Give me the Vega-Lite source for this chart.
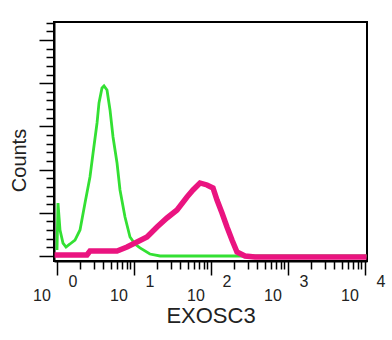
{
  "$schema": "https://vega.github.io/schema/vega-lite/v6.json",
  "width": 313,
  "height": 239,
  "autosize": {"type": "none"},
  "padding": {"left": 54, "top": 22, "right": 25, "bottom": 79},
  "background": "white",
  "config": {
    "view": {"stroke": "black", "strokeWidth": 2},
    "font": "Liberation Sans",
    "axis": {"domainColor": "black", "domainWidth": 2, "tickColor": "black", "tickWidth": 1.5, "grid": false}
  },
  "data": {
    "values": [
      {"series": "control", "x": 1.0, "y": 6.9},
      {"series": "control", "x": 1.03, "y": 61.3},
      {"series": "control", "x": 1.094, "y": 30.1},
      {"series": "control", "x": 1.196, "y": 15.0},
      {"series": "control", "x": 1.309, "y": 10.4},
      {"series": "control", "x": 1.475, "y": 13.9},
      {"series": "control", "x": 1.713, "y": 18.5},
      {"series": "control", "x": 1.99, "y": 30.1},
      {"series": "control", "x": 2.31, "y": 61.3},
      {"series": "control", "x": 2.68, "y": 91.4},
      {"series": "control", "x": 2.94, "y": 119.2},
      {"series": "control", "x": 3.31, "y": 153.9},
      {"series": "control", "x": 3.51, "y": 177.1},
      {"series": "control", "x": 3.84, "y": 194.4},
      {"series": "control", "x": 4.08, "y": 196.8},
      {"series": "control", "x": 4.46, "y": 192.1},
      {"series": "control", "x": 4.88, "y": 169.0},
      {"series": "control", "x": 5.34, "y": 137.7},
      {"series": "control", "x": 6.02, "y": 107.6},
      {"series": "control", "x": 6.58, "y": 76.4},
      {"series": "control", "x": 7.64, "y": 45.1},
      {"series": "control", "x": 8.87, "y": 22.0},
      {"series": "control", "x": 10.3, "y": 13.9},
      {"series": "control", "x": 11.97, "y": 9.3},
      {"series": "control", "x": 16.1, "y": 2.3},
      {"series": "control", "x": 21.8, "y": 0},
      {"series": "control", "x": 71.9, "y": 0},
      {"series": "control", "x": 238, "y": 0},
      {"series": "control", "x": 1432, "y": 0},
      {"series": "control", "x": 10500, "y": 0},
      {"series": "EXOSC3", "x": 0.93, "y": 1.2},
      {"series": "EXOSC3", "x": 1.475, "y": 1.2},
      {"series": "EXOSC3", "x": 2.45, "y": 1.2},
      {"series": "EXOSC3", "x": 2.68, "y": 5.8},
      {"series": "EXOSC3", "x": 6.02, "y": 5.8},
      {"series": "EXOSC3", "x": 8.11, "y": 10.4},
      {"series": "EXOSC3", "x": 10.94, "y": 16.2},
      {"series": "EXOSC3", "x": 14.75, "y": 22.0},
      {"series": "EXOSC3", "x": 19.9, "y": 33.6},
      {"series": "EXOSC3", "x": 26.8, "y": 44.0},
      {"series": "EXOSC3", "x": 36.2, "y": 53.2},
      {"series": "EXOSC3", "x": 48.8, "y": 68.3},
      {"series": "EXOSC3", "x": 58.4, "y": 76.4},
      {"series": "EXOSC3", "x": 71.9, "y": 84.5},
      {"series": "EXOSC3", "x": 88.7, "y": 82.2},
      {"series": "EXOSC3", "x": 106.2, "y": 78.7},
      {"series": "EXOSC3", "x": 119.7, "y": 64.8},
      {"series": "EXOSC3", "x": 139, "y": 49.8},
      {"series": "EXOSC3", "x": 161.4, "y": 33.6},
      {"series": "EXOSC3", "x": 187.5, "y": 18.5},
      {"series": "EXOSC3", "x": 217.6, "y": 4.6},
      {"series": "EXOSC3", "x": 276.5, "y": 0},
      {"series": "EXOSC3", "x": 372.8, "y": -1.2},
      {"series": "EXOSC3", "x": 10500, "y": -1.2}
    ]
  },
  "encoding": {
    "x": {
      "field": "x",
      "type": "quantitative",
      "scale": {"type": "log", "domain": [0.914, 10620], "nice": false},
      "axis": {
        "values": [1,2,3,4,5,6,7,8,9,10,20,30,40,50,60,70,80,90,100,200,300,400,500,600,700,800,900,1000,2000,3000,4000,5000,6000,7000,8000,9000,10000],
        "tickSize": {"condition": {"test": "indexof([1,10,100,1000,10000], datum.value) >= 0", "value": 14}, "value": 8},
        "labelExpr": "indexof([1,10,100,1000,10000], datum.value) >= 0 ? ['\u200b\u00a0\u00a0\u00a0\u00a0\u00a0\u00a0\u00a0' + round(log(datum.value)/LN10), '10\u00a0\u00a0\u00a0\u00a0\u00a0\u00a0\u00a0\u200b'] : ''",
        "labelOverlap": false,
        "labelFlush": false,
        "labelFontSize": 16,
        "labelColor": "#222",
        "labelLineHeight": 14,
        "labelPadding": -2,
        "labelBaseline": "top",
        "title": "EXOSC3",
        "titleFontSize": 22,
        "titleFontWeight": "normal",
        "titleColor": "#222",
        "titleBaseline": "alphabetic",
        "titleY": 61
      }
    },
    "y": {
      "field": "y",
      "type": "quantitative",
      "scale": {"domain": [-5.8, 270.8], "nice": false, "zero": false},
      "axis": {
        "values": [0,10,20,30,40,50,60,70,80,90,100,110,120,130,140,150,160,170,180,190,200,210,220,230,240,250,260,270],
        "tickSize": {"condition": {"test": "datum.value % 50 === 0", "value": 15}, "value": 8},
        "labels": false,
        "title": "Counts",
        "titleFontSize": 20,
        "titleFontWeight": "normal",
        "titleColor": "#222",
        "titleAngle": -90,
        "titleAlign": "center",
        "titleBaseline": "alphabetic",
        "titleX": -29,
        "titleY": 138
      }
    }
  },
  "layer": [
    {
      "transform": [{"filter": "datum.series === 'control'"}],
      "mark": {"type": "line", "color": "#33e033", "strokeWidth": 2.8, "clip": true}
    },
    {
      "transform": [{"filter": "datum.series === 'EXOSC3'"}],
      "mark": {"type": "line", "color": "#ea1480", "strokeWidth": 5.5, "clip": true}
    }
  ]
}
